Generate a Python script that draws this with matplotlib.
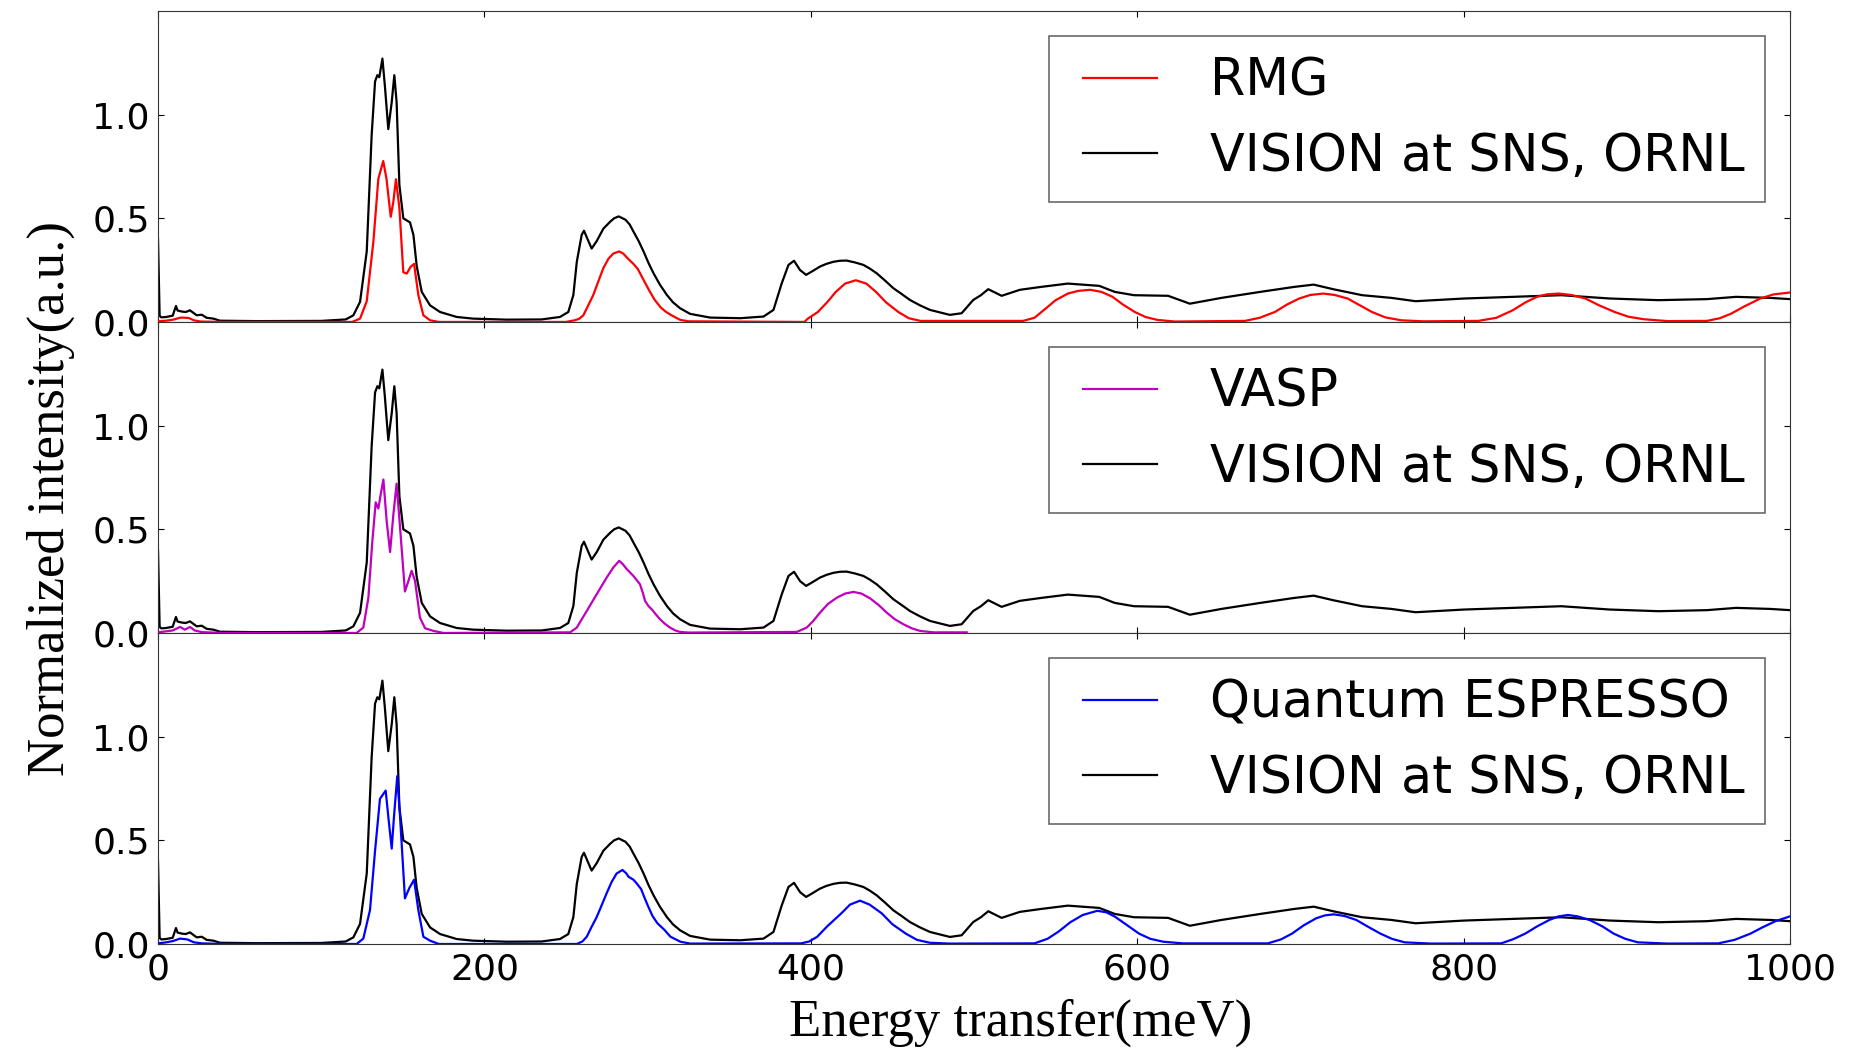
import matplotlib
matplotlib.use('Agg')
import matplotlib.pyplot as plt
from matplotlib.legend_handler import HandlerLine2D

exp_e = [0, 1, 2, 5, 9, 11, 12, 14.7, 17, 19.6, 23.7, 26.8, 29.8, 33.9, 38, 60, 100, 115,
         119.7, 123.8, 127.9, 130.9, 133, 134.4, 135.6, 137.5, 139, 141.1, 143.2, 144.8,
         146.2, 147.9, 150.3, 154.4, 156.5, 158.5, 161.6, 166.7, 172.8, 183, 193, 213.7,
         235, 246.3, 251.4, 254.5, 256.6, 259.6, 261, 263.7, 265.7, 268.8, 272.9, 277,
         279.5, 282.3, 286.4, 289, 291.3, 294.5, 297.5, 300.5, 303.6, 307.5, 311.8, 315.5,
         319.9, 326, 338.3, 356.7, 371, 377.1, 382.2, 386.3, 389.7, 393.4, 397.1, 401,
         405.6, 409.5, 413.8, 417.8, 421.9, 427, 432.2, 436, 440.3, 445.4, 450.5, 455.6,
         460.7, 466.9, 473, 485.2, 492.4, 499.5, 504.2, 508.7, 516.9, 528.1, 541.1, 557.5,
         576.7, 586.2, 598, 618.9, 632.2, 651.6, 675.4, 696.2, 708.1, 720, 737.8, 755.7,
         770.5, 800.3, 830, 859.8, 889.5, 919.3, 949, 966.9, 987.7, 1000]
exp_i = [0.40, 0.03, 0.022, 0.024, 0.03, 0.077, 0.055, 0.05, 0.048, 0.056, 0.032, 0.035,
         0.02, 0.016, 0.006, 0.004, 0.005, 0.012, 0.032, 0.097, 0.34, 0.90, 1.16, 1.19,
         1.18, 1.27, 1.14, 0.93, 1.06, 1.19, 1.06, 0.66, 0.50, 0.48, 0.42, 0.27, 0.145,
         0.08, 0.048, 0.024, 0.016, 0.011, 0.012, 0.024, 0.048, 0.13, 0.29, 0.42, 0.44,
         0.39, 0.354, 0.39, 0.45, 0.483, 0.50, 0.509, 0.493, 0.47, 0.436, 0.39, 0.34,
         0.285, 0.235, 0.18, 0.13, 0.095, 0.066, 0.039, 0.021, 0.018, 0.026, 0.058, 0.187,
         0.275, 0.295, 0.25, 0.227, 0.245, 0.267, 0.28, 0.29, 0.295, 0.296, 0.287, 0.275,
         0.258, 0.235, 0.2, 0.163, 0.135, 0.106, 0.08, 0.058, 0.034, 0.042, 0.106, 0.129,
         0.158, 0.126, 0.155, 0.169, 0.185, 0.174, 0.145, 0.129, 0.126, 0.088, 0.116,
         0.145, 0.169, 0.18, 0.158, 0.129, 0.116, 0.1, 0.113, 0.121, 0.129, 0.113, 0.105,
         0.11, 0.121, 0.116, 0.11]

# RMG
rmg_e = [0, 5, 9.2, 13.5, 14.7, 18.9, 21.9, 26, 40, 119, 123.8, 127.9, 132, 135, 138, 140,
         142.6, 144.2, 145.8, 147.9, 150.3, 152.4, 154.8, 156.9, 159.5, 162.6, 166.7, 172,
         250, 255.3, 258, 260.6, 263, 266.7, 270, 272.9, 276, 279, 282.6, 285, 288, 291.3,
         294, 297, 300.4, 304, 308, 311, 314, 317, 320, 325,
         396.1, 398, 404.3, 410, 415.3, 421, 427.6, 434, 439.9, 446, 453.6, 460, 467.2,
         530, 537, 543.8, 550, 557.5, 564, 571.2, 578, 584.9, 591, 598.5, 605, 612.2, 623,
         666, 675, 684.3, 692, 699.2, 706, 714, 721, 728.9, 736, 743.8, 752, 761.6, 775,
         809, 820, 830, 838, 844.9, 851, 858.3, 866, 874.6, 883, 892.5, 901, 910.4, 925,
         949, 957, 963.9, 972, 981.7, 990, 1000]
rmg_i = [0.003, 0.006, 0.011, 0.02, 0.021, 0.019, 0.008, 0.002, 0.0, 0.0, 0.016, 0.1, 0.39,
         0.69, 0.776, 0.69, 0.507, 0.58, 0.688, 0.55, 0.24, 0.233, 0.266, 0.28, 0.13, 0.032,
         0.008, 0.0,
         0.0, 0.008, 0.015, 0.032, 0.07, 0.13, 0.2, 0.26, 0.305, 0.33, 0.34, 0.33, 0.305,
         0.28, 0.255, 0.21, 0.16, 0.11, 0.07, 0.05, 0.035, 0.022, 0.01, 0.003,
         0.0, 0.015, 0.048, 0.095, 0.145, 0.185, 0.201, 0.185, 0.145, 0.095, 0.048, 0.018,
         0.005,
         0.005, 0.02, 0.064, 0.105, 0.137, 0.15, 0.155, 0.145, 0.121, 0.085, 0.048, 0.024,
         0.01, 0.002,
         0.005, 0.02, 0.048, 0.085, 0.113, 0.13, 0.137, 0.13, 0.113, 0.082, 0.048, 0.022,
         0.008, 0.003,
         0.005, 0.02, 0.056, 0.095, 0.121, 0.133, 0.137, 0.13, 0.113, 0.08, 0.048, 0.025,
         0.013, 0.004,
         0.005, 0.018, 0.04, 0.075, 0.113, 0.133, 0.142]

# VASP
vasp_e = [0, 5, 9, 13.5, 16.5, 19.6, 22.5, 27, 40, 121.7, 125.8, 128.9, 131.3, 133.4, 135,
          136.5, 138.1, 140.1, 142.2, 144.2, 146.2, 148.3, 151.3, 153.4, 155.4, 157.5, 160.5,
          163.6, 168.7, 175,
          252.5, 256.6, 262.7, 268.8, 274.9, 279, 282.6, 285, 287.2, 291.3, 295.3, 297,
          298.4, 300.5, 302.5, 305, 307.6, 310.5, 313.7, 317, 319.9, 325,
          391.4, 397.5, 401.5, 405.6, 410.5, 415.9, 421, 426.1, 431, 436.3, 441.5, 446.5,
          451.5, 456.7, 462, 466.9, 475.1, 495.5]
vasp_i = [0.003, 0.008, 0.012, 0.029, 0.016, 0.029, 0.012, 0.004, 0.0, 0.0, 0.026, 0.17,
          0.44, 0.63, 0.60, 0.67, 0.74, 0.54, 0.39, 0.57, 0.72, 0.51, 0.20, 0.25, 0.30, 0.25,
          0.074, 0.023, 0.01, 0.0,
          0.003, 0.026, 0.106, 0.187, 0.267, 0.316, 0.348, 0.33, 0.308, 0.275, 0.235, 0.195,
          0.155, 0.13, 0.114, 0.09, 0.066, 0.045, 0.026, 0.012, 0.005, 0.002,
          0.005, 0.026, 0.058, 0.098, 0.14, 0.17, 0.19, 0.198, 0.19, 0.167, 0.135, 0.098,
          0.066, 0.042, 0.022, 0.01, 0.003, 0.003]

# Quantum ESPRESSO
qe_e = [0, 5, 9, 13.5, 18, 22, 27, 40, 121.7, 125.8, 129.9, 133, 136, 139.5, 141.1, 143.2,
        144.6, 146.6, 148.3, 151.3, 154, 156.9, 159.5, 162.6, 166.7, 172,
        256.6, 260, 262.7, 265.5, 268.8, 272, 274.9, 278, 281, 284.6, 287, 288.2, 291.3, 293,
        296, 298, 300.4, 303, 306, 310.3, 314, 320.1, 326,
        394, 399, 403.9, 410, 418.7, 424, 430.1, 436, 443.4, 450, 458.2, 465, 472.9, 485,
        537, 545, 551.8, 559, 566.6, 575.5, 581, 586.3, 593, 601.1, 608, 615.9, 628,
        680, 688, 694.8, 702, 709.6, 715, 720.4, 727, 734.2, 741, 749, 756, 763.8, 780,
        822.9, 830, 837.7, 845, 852.5, 858, 863.8, 870, 877.1, 885, 891.9, 899, 906.7, 925,
        956, 966, 975.7, 983, 991, 999.4]
qe_i = [0.003, 0.008, 0.014, 0.026, 0.022, 0.008, 0.003, 0.0, 0.0, 0.026, 0.164, 0.45, 0.70,
        0.74, 0.615, 0.46, 0.615, 0.81, 0.615, 0.22, 0.27, 0.31, 0.164, 0.035, 0.016, 0.0,
        0.0, 0.012, 0.035, 0.08, 0.13, 0.19, 0.245, 0.3, 0.34, 0.357, 0.34, 0.325, 0.31,
        0.295, 0.265, 0.225, 0.18, 0.135, 0.1, 0.068, 0.035, 0.011, 0.002,
        0.003, 0.012, 0.035, 0.085, 0.148, 0.19, 0.209, 0.19, 0.148, 0.095, 0.05, 0.02,
        0.006, 0.002,
        0.003, 0.025, 0.06, 0.105, 0.14, 0.16, 0.153, 0.132, 0.095, 0.05, 0.025, 0.011,
        0.003,
        0.003, 0.022, 0.05, 0.09, 0.124, 0.138, 0.143, 0.135, 0.116, 0.085, 0.05, 0.025,
        0.008, 0.002,
        0.003, 0.022, 0.05, 0.085, 0.116, 0.133, 0.14, 0.133, 0.116, 0.085, 0.05, 0.025,
        0.008, 0.002,
        0.003, 0.02, 0.05, 0.08, 0.11, 0.132]

models = [('RMG', 'red', rmg_e, rmg_i),
          ('VASP', 'm', vasp_e, vasp_i),
          ('Quantum ESPRESSO', 'blue', qe_e, qe_i)]


class ShiftedLine(HandlerLine2D):
    # leaves extra room on the left of the legend line
    def create_artists(self, legend, orig_handle, xdescent, ydescent, width, height,
                       fontsize, trans):
        shift = 0.27 * fontsize
        return super().create_artists(legend, orig_handle, xdescent - shift, ydescent,
                                      width - shift, height, fontsize, trans)


fig = plt.figure(figsize=(18.61, 10.49), dpi=100)
left, width = 0.0849, 0.877
height = 0.2965
bottom0 = 0.1001

for k, (name, col, e, inten) in enumerate(models):
    ax = fig.add_axes([left, bottom0 + (2 - k) * height, width, height])
    ax.plot(e, inten, color=col, lw=1.6, label=name, zorder=3)
    ax.plot(exp_e, exp_i, color='black', lw=1.6, label='VISION at SNS, ORNL', zorder=2)
    ax.set_xlim(0, 1000)
    ax.set_ylim(0, 1.5)
    ax.set_yticks([0, 0.5, 1.0])
    ax.set_yticklabels(['0.0', '0.5', '1.0'])
    ax.set_xticks([0, 200, 400, 600, 800, 1000])
    ax.tick_params(direction='in', top=True, right=True, length=4, width=0.8,
                   labelsize=26, pad=6)
    if k < 2:
        ax.tick_params(labelbottom=False)
    leg = ax.legend(loc='upper right', fontsize=36.5, handlelength=1.73,
                    handletextpad=1.05, borderpad=0.4, labelspacing=0.5,
                    borderaxespad=0.5, fancybox=False,
                    handler_map={plt.Line2D: ShiftedLine()})
    leg.get_frame().set_edgecolor('#444444')
    leg.get_frame().set_linewidth(1.2)
    for s in ax.spines.values():
        s.set_color('#333333')

fig.text(0.0274, 0.525, 'Normalized intensity(a.u.)', rotation=90, ha='center',
         va='center', fontsize=38, family='Liberation Serif')
fig.text(0.5486, 0.0248, 'Energy transfer(meV)', ha='center', va='center',
         fontsize=38, family='Liberation Serif')

fig.savefig('out.png', dpi=100)
